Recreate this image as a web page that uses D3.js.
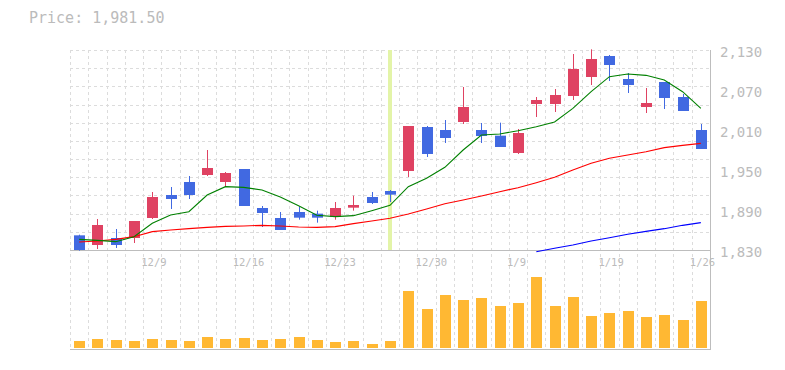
<!DOCTYPE html>
<html><head><meta charset="utf-8">
<script src="https://cdn.jsdelivr.net/npm/d3@7"></script>
<style>
html,body{margin:0;padding:0;background:#fff;}
svg{display:block;}
text{font-family:"DejaVu Sans Mono","Liberation Mono",monospace;fill:#bbb;}
</style></head>
<body>
<script>
const dates = ["12/3","12/4","12/5","12/8","12/9","12/10","12/11","12/12","12/15","12/16","12/17","12/18","12/19","12/22","12/23","12/24","12/25","12/26","12/29","12/30","1/5","1/6","1/7","1/8","1/9","1/13","1/14","1/15","1/16","1/19","1/20","1/21","1/22","1/23","1/26"];
const open  = [1852,1837.5,1848,1848,1878,1912.5,1932,1942.5,1932,1951.5,1893,1878,1887,1884.5,1879.5,1893.5,1909.5,1918.5,1948.5,2014.5,2010,2022,2010,2001.5,1975.5,2049,2049,2061,2089.5,2121,2086.5,2044.5,2082,2059.5,2010];
const high  = [1853,1876.5,1861.5,1873.5,1917,1924.5,1941,1980,1947,1951.5,1896,1887,1895,1889,1902,1911.5,1917,1920,2016,2016,2025,2074.5,2020.5,2021,2011.5,2059.5,2071.5,2124,2131,2122.5,2095.5,2073,2082,2064,2019];
const low   = [1829,1831.5,1833,1840.5,1876.5,1891.5,1906.5,1941,1926,1896,1864.5,1860,1875.5,1871,1875.5,1889,1899,1902,1939.5,1969.5,1990.5,2019,1990.5,1984.5,1974,2029.5,2037,2055,2077.5,2083.5,2065.5,2035.5,2041.5,2038.5,1981.5];
const close = [1830,1867.5,1837.5,1873.5,1909.5,1906.5,1912.5,1953,1945.5,1896,1885.5,1860,1878.5,1878.5,1893,1897.5,1900.5,1913,2016,1974,1998,2044.5,2001,1984.5,2005.5,2055,2062.5,2101.5,2116.5,2107.5,2077.5,2050.5,2058,2038.5,1981.5];
const ma5  = [1846,1844.5,1842.5,1850,1870,1882.5,1887.5,1912.5,1925,1924,1920,1909.5,1896.5,1882,1880,1881.5,1889,1897,1925,1937.5,1954,1980,2002.5,2004,2009,2015,2022,2042.5,2067.5,2090,2094,2092,2085,2067.5,2042.5];
const ma25 = [1842,1843.5,1846,1850,1857.5,1860,1862,1864,1865.5,1866,1867,1866,1864.5,1864,1865,1869.5,1873.5,1877.5,1884,1891.5,1899.5,1905,1911,1917.5,1923.5,1931,1939,1950,1960,1967.5,1972.5,1977.5,1983.5,1987,1990];
const ma75 = [null,null,null,null,null,null,null,null,null,null,null,null,null,null,null,null,null,null,null,null,null,null,null,null,null,1827.5,1832.5,1837.5,1843.5,1848.5,1853.5,1858,1862,1867,1871];
const volume = [7,9,8,7,9,8,7,11,9,10,8,9,11,8,6,7,4,7,57,39,53,48,50,42,45,71,42,51,32,35,37,31,33,28,47].map(v=>v*1000);
const yTicks = [1830,1890,1950,2010,2070,2130];
const xTickIdx = [4,9,14,19,24,29,34];
const markedDay = "12/26";
const title = "Price: 1,981.50";

const W=785,H=370;
const svg=d3.select("body").append("svg").attr("width",W).attr("height",H);
const x=d3.scaleBand().domain(d3.range(dates.length)).range([70,710]);
const y=d3.scaleLinear().domain([1830,2130]).range([250,50]);
const yv=d3.scaleLinear().domain([0,80000]).range([348,268]);
const cx=i=>x(i)+x.bandwidth()/2;
const gridColor="#dcdcdc", axisColor="#bdbdbd";

// grid
const g=svg.append("g");
const hg=d3.range(0,11).map(k=>1830+k*300/11).slice(1);
g.selectAll(".hg").data(hg.concat([2130])).join("line")
 .attr("x1",70).attr("x2",710).attr("y1",d=>Math.round(y(d))+0.5).attr("y2",d=>Math.round(y(d))+0.5)
 .attr("stroke",gridColor).attr("stroke-dasharray","3,3");
g.selectAll(".vg").data(d3.range(dates.length)).join("line")
 .attr("x1",i=>Math.round(x(i))+0.5).attr("x2",i=>Math.round(x(i))+0.5).attr("y1",50).attr("y2",349)
 .attr("stroke",gridColor).attr("stroke-dasharray","3,3");

// marked day band
const mi=dates.indexOf(markedDay);
svg.append("rect").attr("x",cx(mi)-2).attr("width",4).attr("y",y(2130)).attr("height",y(1830)-y(2130)).attr("fill","#e3f4a8");

// axes lines
svg.append("line").attr("x1",70).attr("x2",710).attr("y1",250.5).attr("y2",250.5).attr("stroke",axisColor);
svg.append("line").attr("x1",70).attr("x2",710).attr("y1",349.5).attr("y2",349.5).attr("stroke",axisColor);
svg.append("line").attr("x1",710.5).attr("x2",710.5).attr("y1",50).attr("y2",350).attr("stroke",axisColor);

// volume
svg.selectAll(".vol").data(volume).join("rect")
 .attr("x",(d,i)=>Math.round(cx(i))-5).attr("width",11)
 .attr("y",d=>yv(d)).attr("height",d=>yv(0)-yv(d)).attr("fill","#ffb833");

// candles
const up="#df4262", down="#4169e1";
const idx=d3.range(dates.length);
svg.selectAll(".wick").data(idx).join("line")
 .attr("x1",i=>Math.round(cx(i))+0.5).attr("x2",i=>Math.round(cx(i))+0.5)
 .attr("y1",i=>y(high[i])).attr("y2",i=>y(low[i]))
 .attr("stroke",i=>close[i]>=open[i]?up:down).attr("stroke-width",1);
svg.selectAll(".body").data(idx).join("rect")
 .attr("x",i=>Math.round(cx(i))-5).attr("width",11)
 .attr("y",i=>y(Math.max(open[i],close[i])))
 .attr("height",i=>Math.max(1,Math.abs(y(open[i])-y(close[i]))))
 .attr("fill",i=>close[i]>=open[i]?up:down);

// moving averages
const line=arr=>d3.line().defined(i=>arr[i]!=null).x(i=>cx(i)).y(i=>y(arr[i]))(idx);
[[ma75,"#0000ff"],[ma25,"#ff0000"],[ma5,"#008000"]].forEach(([a,c])=>{
  svg.append("path").attr("d",line(a)).attr("fill","none").attr("stroke",c).attr("stroke-width",1.1);
});

// y labels
svg.selectAll(".yl").data(yTicks).join("text")
 .attr("x",720).attr("y",d=>y(d)+7).attr("font-size",14).text(d=>d3.format(",")(d));
// x labels
svg.selectAll(".xl").data(xTickIdx).join("text")
 .attr("x",i=>cx(i)-11).attr("y",266).attr("font-size",10.5).text(i=>dates[i]);
// title
svg.append("text").attr("x",29).attr("y",23).attr("font-size",15).text(title);
</script>
</body></html>
